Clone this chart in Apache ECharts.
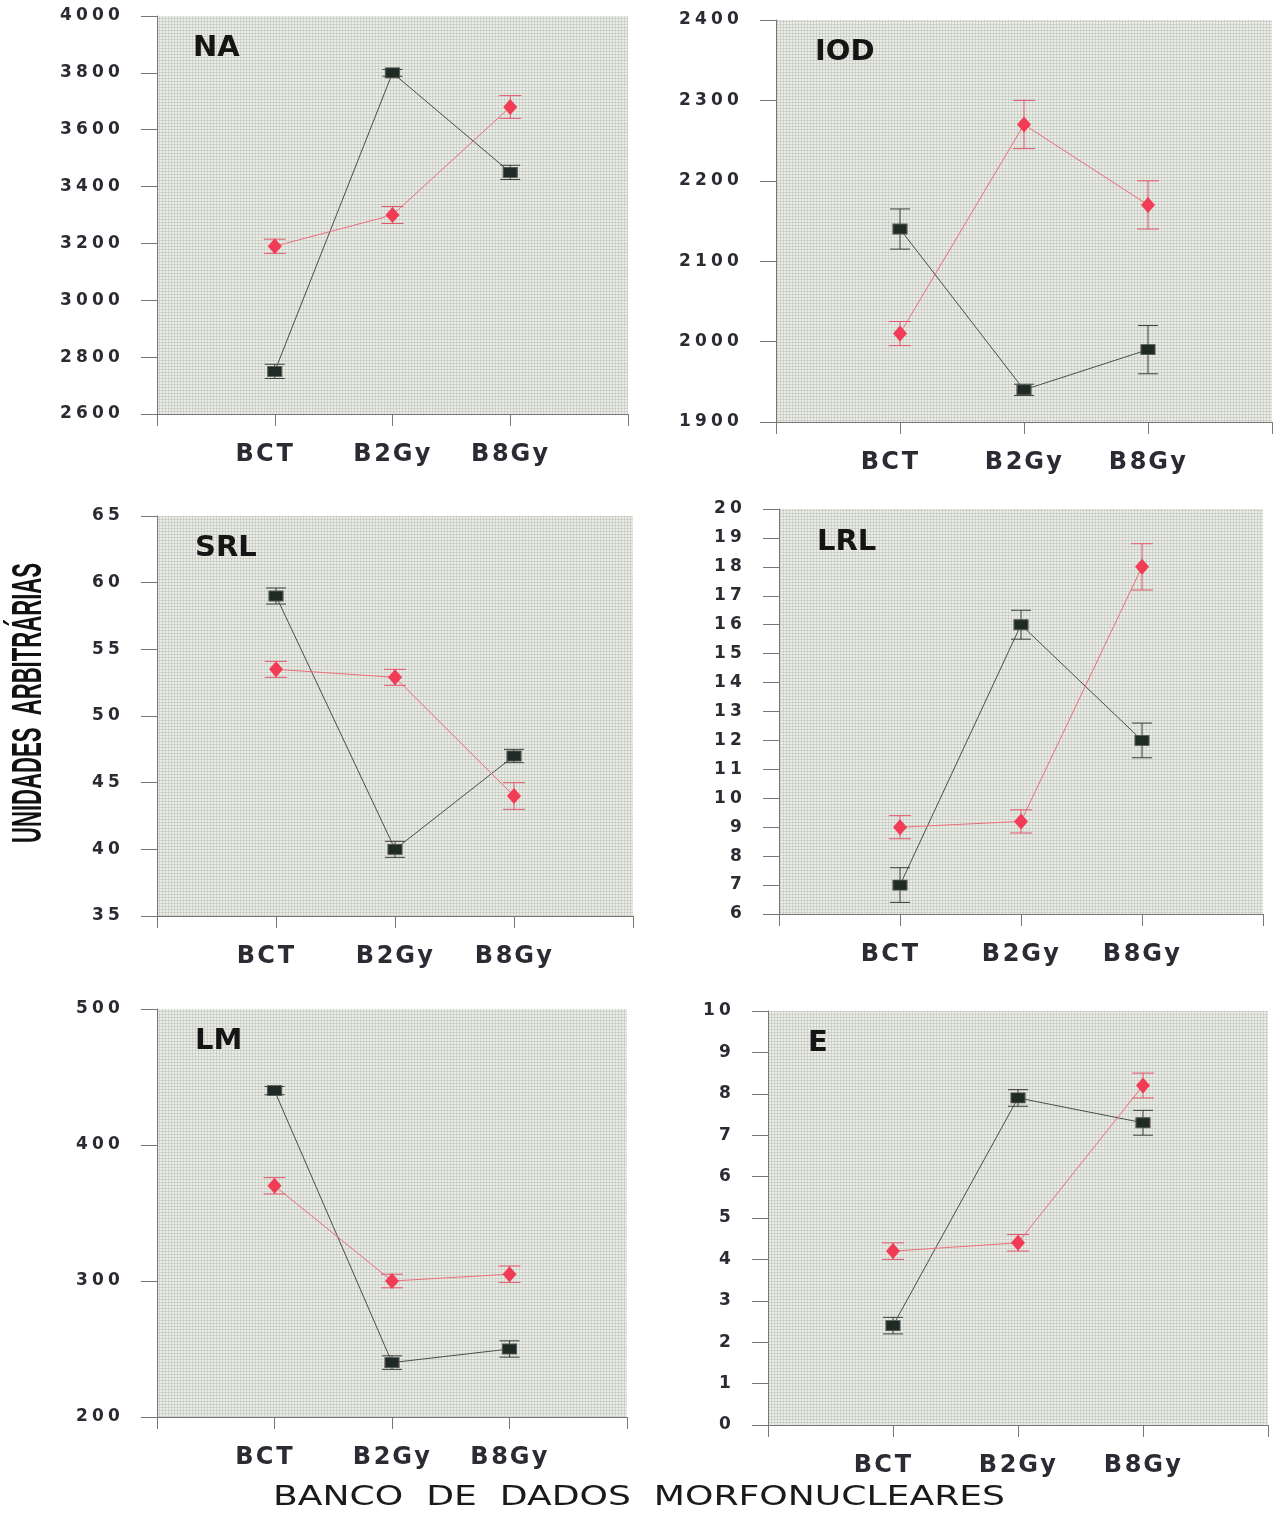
<!DOCTYPE html>
<html><head><meta charset="utf-8">
<script src="https://cdn.jsdelivr.net/npm/echarts@6/dist/echarts.min.js"></script>
<style>html,body{margin:0;padding:0;background:#fff}#c{width:1276px;height:1513px}</style>
</head><body><div id="c"></div>
<script>
// ---------- DATA ----------
const categories = ['BCT', 'B2Gy', 'B8Gy'];
const panelNames = ['NA', 'IOD', 'SRL', 'LRL', 'LM', 'E'];

const naBlack = [2750, 3800, 3450];
const naBlackErr = [25, 12, 25];
const naRed = [3190, 3300, 3680];
const naRedErr = [25, 30, 40];

const iodBlack = [2140, 1940, 1990];
const iodBlackErr = [25, 7, 30];
const iodRed = [2010, 2270, 2170];
const iodRedErr = [15, 30, 30];

const srlBlack = [59, 40, 47];
const srlBlackErr = [0.6, 0.6, 0.5];
const srlRed = [53.5, 52.9, 44];
const srlRedErr = [0.6, 0.6, 1.0];

const lrlBlack = [7, 16, 12];
const lrlBlackErr = [0.6, 0.5, 0.6];
const lrlRed = [9.0, 9.2, 18.0];
const lrlRedErr = [0.4, 0.4, 0.8];

const lmBlack = [440, 240, 250];
const lmBlackErr = [3, 5, 6];
const lmRed = [370, 300, 305];
const lmRedErr = [6, 5, 6];

const eBlack = [2.4, 7.9, 7.3];
const eBlackErr = [0.2, 0.2, 0.3];
const eRed = [4.2, 4.4, 8.2];
const eRedErr = [0.2, 0.2, 0.3];

// y axis ranges (min, max, interval)
const yMins = [2600, 1900, 35, 6, 200, 0];
const yMaxs = [4000, 2400, 65, 20, 500, 10];
const yIntervals = [200, 100, 5, 1, 100, 1];

const yAxisTitle = 'UNIDADES  ARBITRÁRIAS';
const xAxisTitle = 'BANCO  DE  DADOS  MORFONUCLEARES';

// ---------- LAYOUT ----------
const grids = [
  {left: 157, top: 16, width: 471, height: 398},
  {left: 776, top: 20, width: 496, height: 402},
  {left: 157, top: 516, width: 476, height: 400},
  {left: 779, top: 509, width: 484, height: 405},
  {left: 157, top: 1009, width: 470, height: 408},
  {left: 768, top: 1011, width: 500, height: 414}
];
const titlePos = [[193, 34], [815, 38], [195, 534], [817, 528], [195, 1027], [808, 1029]];

const panels = [
  [naBlack, naBlackErr, naRed, naRedErr],
  [iodBlack, iodBlackErr, iodRed, iodRedErr],
  [srlBlack, srlBlackErr, srlRed, srlRedErr],
  [lrlBlack, lrlBlackErr, lrlRed, lrlRedErr],
  [lmBlack, lmBlackErr, lmRed, lmRedErr],
  [eBlack, eBlackErr, eRed, eRedErr]
];

function makePattern() {
  const c = document.createElement('canvas');
  c.width = 12; c.height = 12;
  const g = c.getContext('2d');
  g.fillStyle = '#eaece6';
  g.fillRect(0, 0, 12, 12);
  g.fillStyle = 'rgba(150,158,145,0.28)';
  for (let i = 0; i < 12; i += 3) {
    g.fillRect(i, 0, 1, 12);
    g.fillRect(0, i, 12, 1);
  }
  return c;
}
const pattern = {image: makePattern(), repeat: 'repeat'};

function spaced(str, key) {
  return str.split('').map(ch => '{' + key + '|' + ch + '}').join('');
}

const labelColor = '#2b2b33';
const axisColor = '#777';

const option = {
  animation: false,
  backgroundColor: '#ffffff',
  title: [],
  grid: [],
  xAxis: [],
  yAxis: [],
  series: [],
  graphic: []
};

panels.forEach((p, i) => {
  option.grid.push(Object.assign({show: true, backgroundColor: pattern, borderWidth: 0}, grids[i]));
  option.title.push({
    text: panelNames[i], left: titlePos[i][0], top: titlePos[i][1], padding: 0,
    textStyle: {fontFamily: 'DejaVu Sans', fontWeight: 'bold', fontSize: 29, color: '#151515'}
  });
  option.xAxis.push({
    type: 'value', gridIndex: i, min: 0, max: 4, interval: 1,
    splitLine: {show: false},
    axisLine: {show: true, lineStyle: {color: axisColor, width: 1}},
    axisTick: {show: true, length: 12, lineStyle: {color: axisColor}},
    axisLabel: {
      margin: 29,
      formatter: v => {
        if (v >= 1 && v <= 3) {
          let s = spaced(categories[v - 1], 'c');
          if (v === 1) s += '{c| }';
          return s;
        }
        return '';
      },
      rich: {c: {width: 20, align: 'center', fontFamily: 'DejaVu Sans', fontWeight: 'bold', fontSize: 24, color: labelColor}}
    }
  });
  option.yAxis.push({
    type: 'value', gridIndex: i, min: yMins[i], max: yMaxs[i], interval: yIntervals[i],
    splitLine: {show: false},
    axisLine: {show: true, lineStyle: {color: axisColor, width: 1}},
    axisTick: {show: true, length: 16, lineStyle: {color: axisColor}},
    axisLabel: {
      margin: 35,
      formatter: v => spaced(String(v), 'd'),
      rich: {d: {width: 16, align: 'center', fontFamily: 'DejaVu Sans', fontWeight: 'bold', fontSize: 17, color: labelColor}}
    }
  });
  const [blk, blkErr, red, redErr] = p;
  const blkData = blk.map((v, k) => [k + 1, v]);
  const redData = red.map((v, k) => [k + 1, v]);
  const blkErrData = blk.map((v, k) => [k + 1, v - blkErr[k], v + blkErr[k]]);
  const redErrData = red.map((v, k) => [k + 1, v - redErr[k], v + redErr[k]]);
  const errRender = (color, half) => (params, api) => {
    const x = api.value(0);
    const lo = api.coord([x, api.value(1)]);
    const hi = api.coord([x, api.value(2)]);
    const st = {stroke: color, lineWidth: 1};
    return {type: 'group', children: [
      {type: 'line', shape: {x1: lo[0], y1: lo[1], x2: hi[0], y2: hi[1]}, style: st},
      {type: 'line', shape: {x1: lo[0] - half, y1: lo[1], x2: lo[0] + half, y2: lo[1]}, style: st},
      {type: 'line', shape: {x1: hi[0] - half, y1: hi[1], x2: hi[0] + half, y2: hi[1]}, style: st}
    ]};
  };
  option.series.push({
    type: 'custom', xAxisIndex: i, yAxisIndex: i, z: 1,
    data: blkErrData, renderItem: errRender('#3a3d3a', 10), silent: true
  });
  option.series.push({
    type: 'custom', xAxisIndex: i, yAxisIndex: i, z: 1,
    data: redErrData, renderItem: errRender('#e2566a', 11), silent: true
  });
  option.series.push({
    type: 'line', xAxisIndex: i, yAxisIndex: i, z: 3, data: blkData,
    symbol: 'rect', symbolSize: [14, 10], showAllSymbol: true,
    lineStyle: {color: '#4a4f4a', width: 1},
    itemStyle: {color: '#1e2b25', borderColor: '#555', borderWidth: 1}
  });
  option.series.push({
    type: 'line', xAxisIndex: i, yAxisIndex: i, z: 4, data: redData,
    symbol: 'diamond', symbolSize: [14, 16], showAllSymbol: true,
    lineStyle: {color: '#ec6f7c', width: 1},
    itemStyle: {color: '#f23c56', borderWidth: 0}
  });
});

// axis titles with measured scaling
function measure(font, text) {
  const c = document.createElement('canvas').getContext('2d');
  c.font = font;
  return c.measureText(text).width;
}
const yFont = "bold 42px 'Liberation Sans Narrow', 'Liberation Sans', sans-serif";
const yScale = 280 / measure(yFont, yAxisTitle);
const xFont = "27px 'DejaVu Sans', sans-serif";
const xScale = 732 / measure(xFont, xAxisTitle);

option.graphic.push({
  type: 'text', x: 29, y: 703, rotation: Math.PI / 2, scaleX: yScale, scaleY: 1,
  style: {text: yAxisTitle, font: yFont, fill: '#111', align: 'center', verticalAlign: 'middle'}
});
option.graphic.push({
  type: 'text', x: 639, y: 1498, scaleX: xScale, scaleY: 1,
  style: {text: xAxisTitle, font: xFont, fill: '#1a1a1a', align: 'center', verticalAlign: 'middle'}
});

const chart = echarts.init(document.getElementById('c'), null, {renderer: 'canvas'});
chart.setOption(option);
</script>
</body></html>
